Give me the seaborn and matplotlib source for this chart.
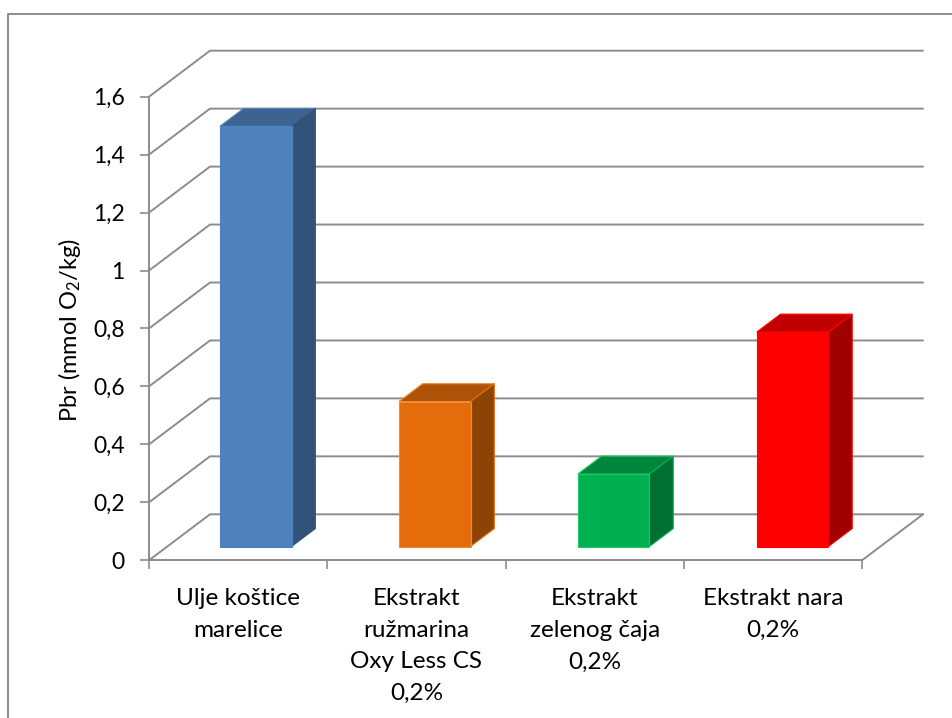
import pandas as pd
import seaborn as sns
import matplotlib.pyplot as plt
from matplotlib.lines import Line2D
from matplotlib.patches import Polygon

categories = ['Ulje koštice\nmarelice', 'Ekstrakt\nružmarina\nOxy Less CS\n0,2%',
              'Ekstrakt\nzelenog čaja\n0,2%', 'Ekstrakt nara\n0,2%']
values = [1.45, 0.5, 0.25, 0.74]
y_ticks = [0, 0.2, 0.4, 0.6, 0.8, 1, 1.2, 1.4, 1.6]
y_labels = ['0', '0,2', '0,4', '0,6', '0,8', '1', '1,2', '1,4', '1,6']

front_cols = ['#4F81BD', '#E46C0A', '#00B050', '#FF0000']
edge_cols = ['#4F81BD', '#F58A35', '#1CC765', '#FF0000']
side_edges = ['#325279', '#E46C0A', '#00B050', '#FF0000']
top_cols = ['#3E6390', '#AE5207', '#00863C', '#C00000']
side_cols = ['#325279', '#8E4306', '#006F32', '#A00000']
GRAY = '#8C8C8C'

W, H = 953, 718
sns.set_theme(style='white')
plt.rcParams['font.family'] = ['Lato', 'DejaVu Sans']
plt.rcParams['mathtext.default'] = 'regular'

fig = plt.figure(figsize=(W / 100, H / 100), dpi=100)
ax = fig.add_axes([149 / W, (H - 560.3) / H, 713 / W, 463.6 / H])

df = pd.DataFrame({'cat': categories, 'val': values})
sns.barplot(data=df, x='cat', y='val', hue='cat', palette=front_cols, width=0.402,
            dodge=False, legend=False, ax=ax, zorder=3, saturation=1)
ax.set(xlim=(-0.5, 3.5), ylim=(0, 1.6), xlabel='', ylabel='')

# depth of the fake 3d box, in data units
dx = 61 / 178.25
dy = 46 / 289.75

# back wall and left wall gridlines
for t in y_ticks:
    ax.plot([-0.5, -0.5 + dx, 3.5 + dx], [t, t + dy, t + dy], color=GRAY, lw=1.4,
            clip_on=False, zorder=1, solid_joinstyle='miter')
ax.plot([3.5, 3.5 + dx], [0, dy], color=GRAY, lw=1.4, clip_on=False, zorder=1)

# bars sit 0.3 into the depth, and are 0.39 deep
off, depth = 0.3, 0.39
bars = [c[0] for c in ax.containers]
for i, b in enumerate(bars):
    b.set_x(b.get_x() + off * dx + i * 0.004 - 0.004)
    b.set_y(off * dy)
    b.set_edgecolor(edge_cols[i])
    b.set_linewidth(0.8)
    b.set_clip_on(False)
    x0, x1 = b.get_x(), b.get_x() + b.get_width()
    y0, y1 = b.get_y(), b.get_y() + b.get_height()
    ddx, ddy = depth * dx, depth * dy
    top = Polygon([(x0, y1), (x0 + ddx, y1 + ddy), (x1 + ddx, y1 + ddy), (x1, y1)],
                  fc=top_cols[i], ec=edge_cols[i], lw=0.8, zorder=2.9, clip_on=False)
    side = Polygon([(x1, y0), (x1 + ddx, y0 + ddy), (x1 + ddx, y1 + ddy), (x1, y1)],
                   fc=side_cols[i], ec=side_edges[i], lw=0.8, zorder=2.95, clip_on=False)
    ax.add_patch(top)
    ax.add_patch(side)

sns.despine(ax=ax)
for s in ['left', 'bottom']:
    ax.spines[s].set_color(GRAY)
    ax.spines[s].set_linewidth(1.4)
    ax.spines[s].set_zorder(2)

ax.set_yticks(y_ticks)
ax.set_yticklabels(y_labels)
ax.tick_params(axis='y', left=True, length=6.5, width=1.2, color=GRAY, pad=11,
               labelsize=16.5, labelcolor='black')
ax.set_xticks(range(4))
ax.set_xticklabels(categories, linespacing=1.63)
ax.set_xticks([-0.5, 0.5, 1.5, 2.5, 3.5], minor=True)
ax.tick_params(axis='x', which='major', bottom=False, length=0, pad=20,
               labelsize=17.5, labelcolor='black')
ax.tick_params(axis='x', which='minor', bottom=True, length=6.5, width=1.2, color=GRAY)
ax.set_ylabel('Pbr (mmol O$_2$/kg)', fontsize=17, color='black')
ax.yaxis.set_label_coords(83 / W, (H - 330) / H, transform=fig.transFigure)

# chart area border, cut off by the right and bottom of the picture
fig.add_artist(Line2D([8 / W, 8 / W, 1], [0, (H - 14) / H, (H - 14) / H], color=GRAY, lw=1.4))

fig.savefig('out.png', dpi=100)
plt.close()
